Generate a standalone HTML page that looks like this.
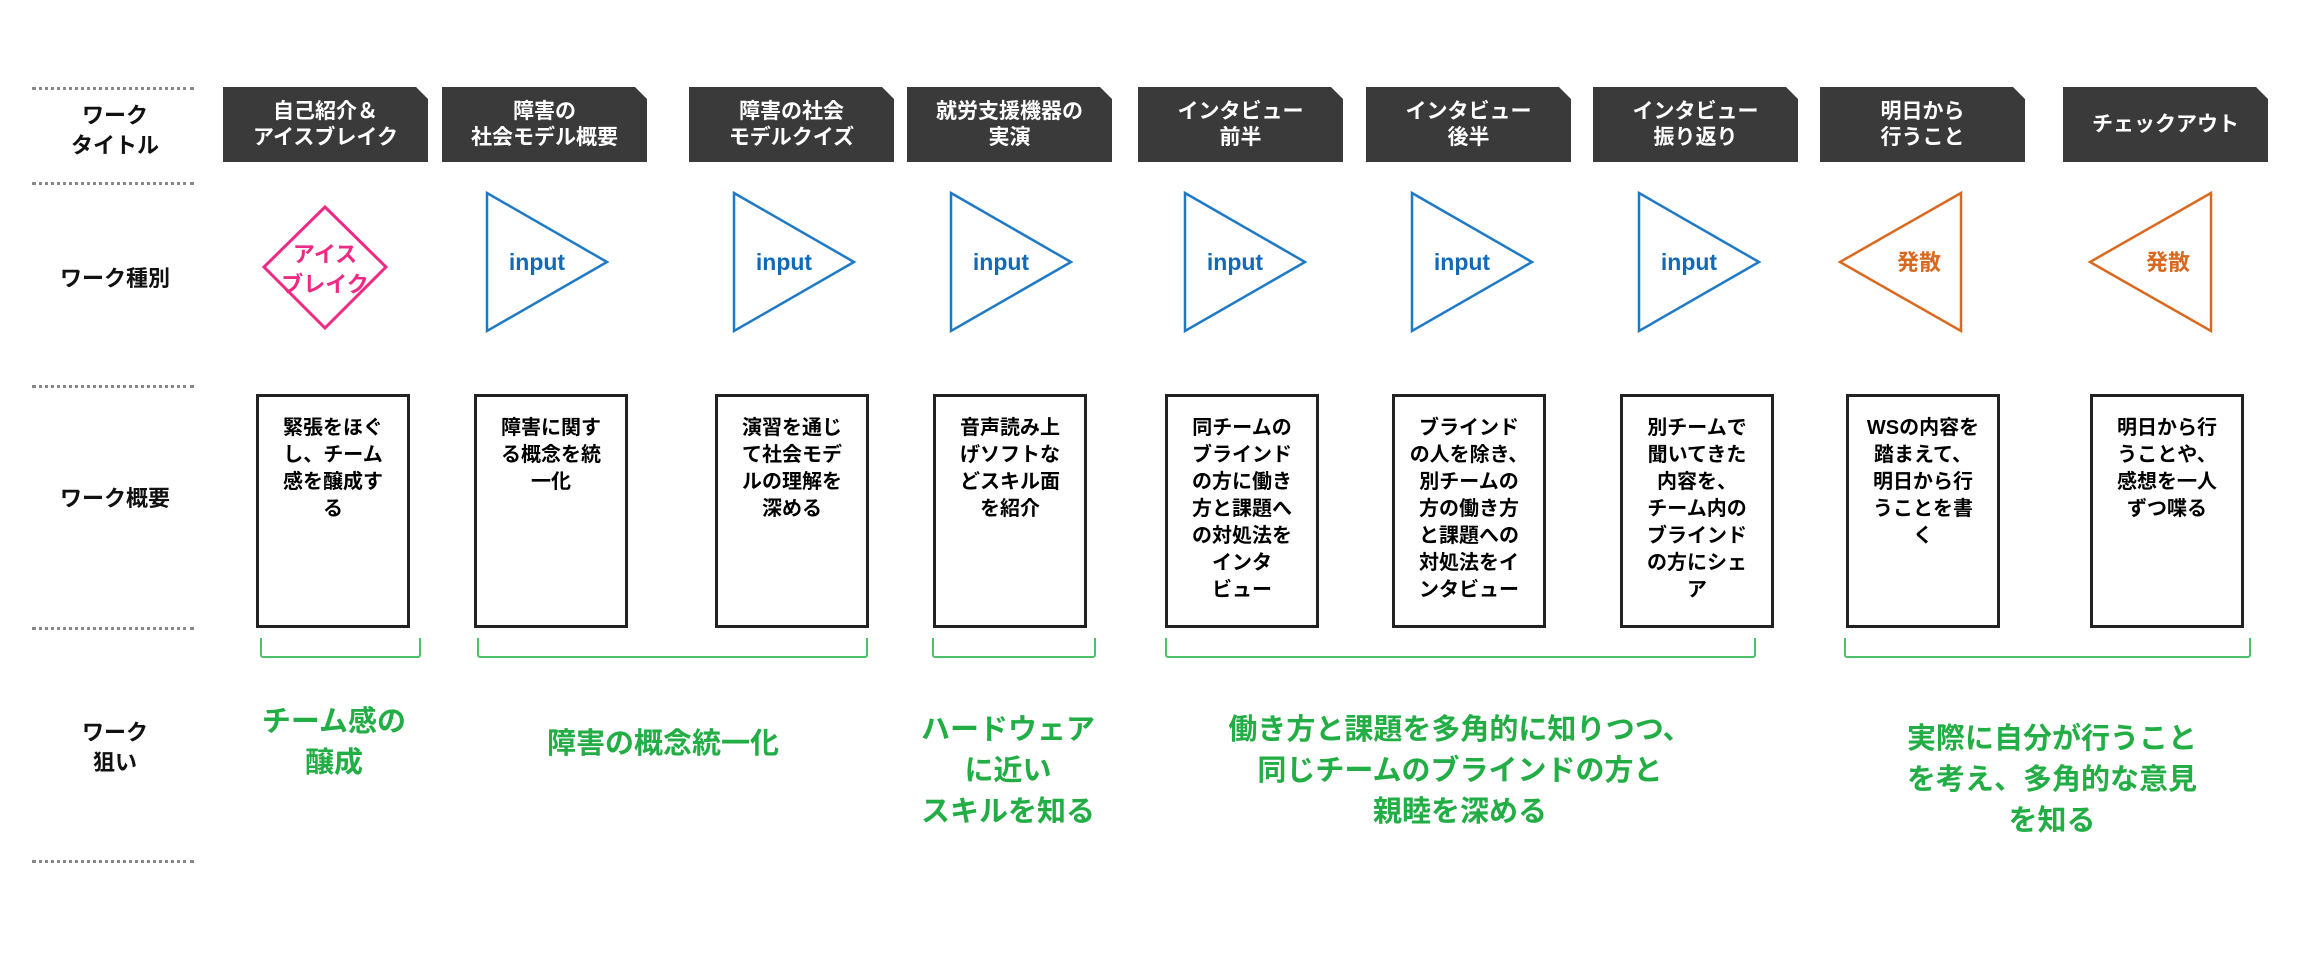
<!DOCTYPE html>
<html><head><meta charset="utf-8"><style>
body{margin:0;background:#fff;width:2300px;height:979px;position:relative;overflow:hidden;font-family:"Liberation Sans","Noto Sans CJK JP",sans-serif;font-weight:bold}
.d{position:absolute;left:32px;width:162px;border-top:3px dotted #888}
.lab{position:absolute;left:20px;width:190px;text-align:center;font-size:22px;line-height:30px;color:#111}
.t{position:absolute;top:87px;height:75px;width:205px;background:#3a3a3a;color:#fff;font-size:21px;line-height:26px;display:flex;align-items:center;justify-content:center;text-align:center;clip-path:polygon(0 0,calc(100% - 12px) 0,100% 12px,100% 100%,0 100%)}
.b{position:absolute;top:394px;width:148px;height:228px;border:3px solid #222;box-sizing:content-box;font-size:20px;line-height:27px;text-align:center;white-space:nowrap}
.b div{padding:18px 0 0 0}
.br{position:absolute;top:638px;height:18px;border:2px solid #4cc06a;border-top:none;border-radius:0 0 3px 3px}
.g{position:absolute;color:#22ad45;font-size:29px;line-height:41px;text-align:center;white-space:nowrap}
</style></head><body>
<div class="d" style="top:87px"></div>
<div class="d" style="top:182px"></div>
<div class="d" style="top:385px"></div>
<div class="d" style="top:627px"></div>
<div class="d" style="top:860px"></div>
<div class="lab" style="top:101px">ワーク<br>タイトル</div>
<div class="lab" style="top:264px">ワーク種別</div>
<div class="lab" style="top:484px">ワーク概要</div>
<div class="lab" style="top:718px">ワーク<br>狙い</div>

<div class="t" style="left:223px">自己紹介＆<br>アイスブレイク</div>
<div class="t" style="left:442px">障害の<br>社会モデル概要</div>
<div class="t" style="left:689px">障害の社会<br>モデルクイズ</div>
<div class="t" style="left:907px">就労支援機器の<br>実演</div>
<div class="t" style="left:1138px">インタビュー<br>前半</div>
<div class="t" style="left:1366px">インタビュー<br>後半</div>
<div class="t" style="left:1593px">インタビュー<br>振り返り</div>
<div class="t" style="left:1820px">明日から<br>行うこと</div>
<div class="t" style="left:2063px">チェックアウト</div>

<svg width="2300" height="979" style="position:absolute;left:0;top:0" font-family="Liberation Sans, Noto Sans CJK JP, sans-serif" font-weight="bold">
<polygon points="325,207 386,267 325,328 264,267" fill="none" stroke="#ee2a84" stroke-width="3"/>
<text x="325" y="262" font-size="22" fill="#ee2a84" text-anchor="middle">アイス</text>
<text x="325" y="292" font-size="22" fill="#ee2a84" text-anchor="middle">ブレイク</text>
<g fill="none" stroke="#1f7ac6" stroke-width="2.5">
<polygon points="487,193 607,262 487,331"/>
<polygon points="734,193 854,262 734,331"/>
<polygon points="951,193 1071,262 951,331"/>
<polygon points="1185,193 1305,262 1185,331"/>
<polygon points="1412,193 1532,262 1412,331"/>
<polygon points="1639,193 1759,262 1639,331"/>
</g>
<g font-size="23" fill="#1169b8" text-anchor="middle">
<text x="537" y="270">input</text>
<text x="784" y="270">input</text>
<text x="1001" y="270">input</text>
<text x="1235" y="270">input</text>
<text x="1462" y="270">input</text>
<text x="1689" y="270">input</text>
</g>
<g fill="none" stroke="#d9691f" stroke-width="2.5">
<polygon points="1961,193 1840,262 1961,331"/>
<polygon points="2211,193 2090,262 2211,331"/>
</g>
<g font-size="22" fill="#d9691f" text-anchor="middle">
<text x="1919" y="270">発散</text>
<text x="2168" y="270">発散</text>
</g>
</svg>

<div class="b" style="left:256px"><div>緊張をほぐ<br>し、チーム<br>感を醸成す<br>る</div></div>
<div class="b" style="left:474px"><div>障害に関す<br>る概念を統<br>一化</div></div>
<div class="b" style="left:715px"><div>演習を通じ<br>て社会モデ<br>ルの理解を<br>深める</div></div>
<div class="b" style="left:933px"><div>音声読み上<br>げソフトな<br>どスキル面<br>を紹介</div></div>
<div class="b" style="left:1165px"><div>同チームの<br>ブラインド<br>の方に働き<br>方と課題へ<br>の対処法を<br>インタ<br>ビュー</div></div>
<div class="b" style="left:1392px"><div>ブラインド<br>の人を除き、<br>別チームの<br>方の働き方<br>と課題への<br>対処法をイ<br>ンタビュー</div></div>
<div class="b" style="left:1620px"><div>別チームで<br>聞いてきた<br>内容を、<br>チーム内の<br>ブラインド<br>の方にシェ<br>ア</div></div>
<div class="b" style="left:1846px"><div>WSの内容を<br>踏まえて、<br>明日から行<br>うことを書<br>く</div></div>
<div class="b" style="left:2090px"><div>明日から行<br>うことや、<br>感想を一人<br>ずつ喋る</div></div>

<div class="br" style="left:260px;width:157px"></div>
<div class="br" style="left:477px;width:387px"></div>
<div class="br" style="left:932px;width:160px"></div>
<div class="br" style="left:1165px;width:587px"></div>
<div class="br" style="left:1844px;width:403px"></div>

<div class="g" style="left:234px;width:200px;top:702px">チーム感の<br>醸成</div>
<div class="g" style="left:513px;width:300px;top:724px">障害の概念統一化</div>
<div class="g" style="left:908px;width:200px;top:710px">ハードウェア<br>に近い<br>スキルを知る</div>
<div class="g" style="left:1160px;width:600px;top:710px">働き方と課題を多角的に知りつつ、<br>同じチームのブラインドの方と<br>親睦を深める</div>
<div class="g" style="left:1852px;width:400px;top:719px">実際に自分が行うこと<br>を考え、多角的な意見<br>を知る</div>
</body></html>
